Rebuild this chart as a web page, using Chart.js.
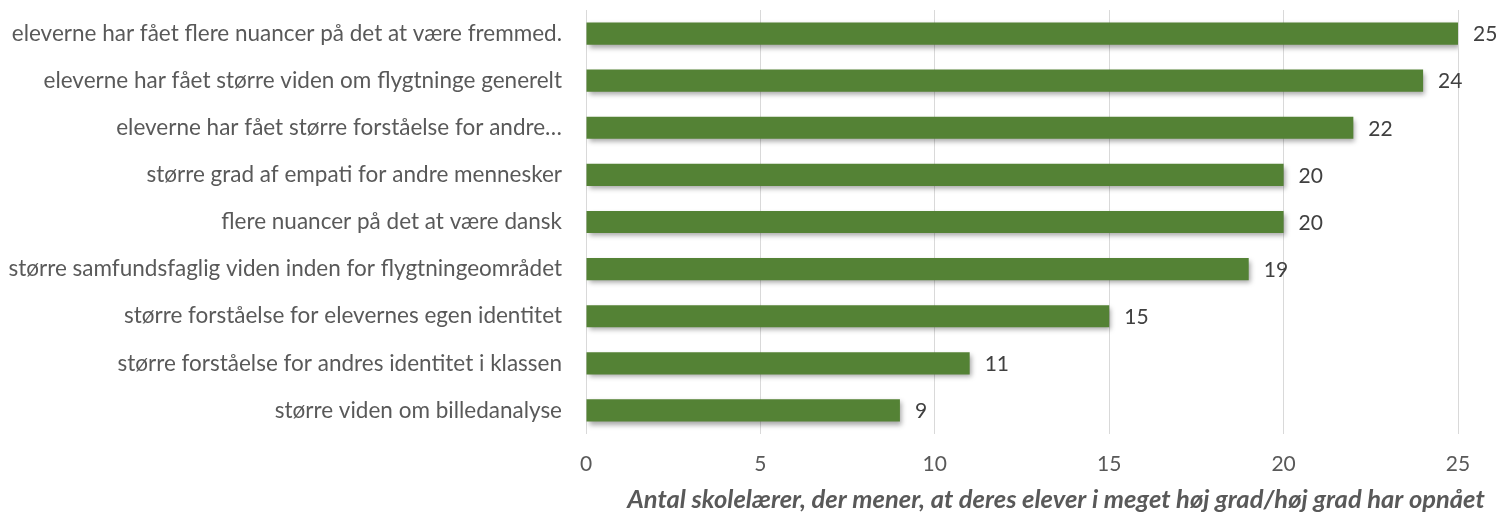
<!DOCTYPE html>
<html>
<head>
<meta charset="utf-8">
<script src="https://cdn.jsdelivr.net/npm/chart.js@4.4.1/dist/chart.umd.min.js"></script>
<style>
  html, body { margin: 0; padding: 0; background: #fff; }
  #wrap { width: 1500px; height: 514px; position: relative; }
</style>
</head>
<body>
<div id="wrap"><canvas id="chart"></canvas></div>
<script>
const categories = [
    'eleverne har fået flere nuancer på det at være fremmed.',
    'eleverne har fået større viden om flygtninge generelt',
    'eleverne har fået større forståelse for andre…',
    'større grad af empati for andre mennesker',
    'flere nuancer på det at være dansk',
    'større samfundsfaglig viden inden for flygtningeområdet',
    'større forståelse for elevernes egen identitet',
    'større forståelse for andres identitet i klassen',
    'større viden om billedanalyse'
];
const values = [25, 24, 22, 20, 20, 19, 15, 11, 9];
const xTicks = [0, 5, 10, 15, 20, 25];
const axisTitle = 'Antal skolelærer, der mener, at deres elever i meget høj grad/høj grad har opnået';

const FONT = 'Lato, "Open Sans", sans-serif';
const TEXT = '#595959';

// skygge under søjlerne
const barShadow = {
    id: 'barShadow',
    beforeDatasetDraw(chart) {
        const ctx = chart.ctx;
        ctx.save();
        ctx.shadowColor = 'rgba(0,0,0,0.35)';
        ctx.shadowBlur = 5;
        ctx.shadowOffsetX = 2;
        ctx.shadowOffsetY = 3;
    },
    afterDatasetDraw(chart) {
        chart.ctx.restore();
    }
};

// værdier ved enden af søjlerne + aksetitel
const valueLabels = {
    id: 'valueLabels',
    afterDatasetsDraw(chart) {
        const ctx = chart.ctx;
        const meta = chart.getDatasetMeta(0);
        ctx.save();
        ctx.font = '21px ' + FONT;
        ctx.fillStyle = '#404040';
        ctx.textAlign = 'left';
        ctx.textBaseline = 'middle';
        meta.data.forEach((bar, i) => {
            ctx.fillText(String(values[i]), bar.x + 15, bar.y + 1);
        });
        ctx.font = 'italic bold 25.5px ' + FONT;
        ctx.fillStyle = TEXT;
        ctx.textAlign = 'center';
        ctx.fillText(axisTitle, 1056, 500);
        ctx.restore();
    }
};

new Chart(document.getElementById('chart'), {
    type: 'bar',
    data: {
        labels: categories,
        datasets: [{
            data: values,
            backgroundColor: '#548235',
            borderWidth: 0,
            barPercentage: 0.47,
            categoryPercentage: 1
        }]
    },
    options: {
        indexAxis: 'y',
        responsive: true,
        maintainAspectRatio: false,
        animation: false,
        layout: { padding: { left: 0, right: 42, top: 10, bottom: 0 } },
        plugins: {
            legend: { display: false },
            tooltip: { enabled: false }
        },
        scales: {
            x: {
                min: 0,
                max: 25,
                afterBuildTicks: (scale) => { scale.ticks = xTicks.map(v => ({ value: v })); },
                afterFit: (scale) => {
                    scale.height = 80;
                    scale.paddingLeft = 0;
                    scale.paddingRight = 0;
                },
                grid: { color: '#d9d9d9', lineWidth: 1, drawTicks: false },
                border: { display: false },
                ticks: { color: TEXT, font: { family: FONT, size: 21 }, padding: 18 }
            },
            y: {
                afterFit: (scale) => {
                    scale.width = 586;
                    scale.paddingTop = 0;
                    scale.paddingBottom = 0;
                },
                grid: { display: false, drawTicks: false },
                border: { display: false },
                ticks: { color: TEXT, font: { family: FONT, size: 22.5 }, padding: 24 }
            }
        }
    },
    plugins: [barShadow, valueLabels]
});
</script>
</body>
</html>
